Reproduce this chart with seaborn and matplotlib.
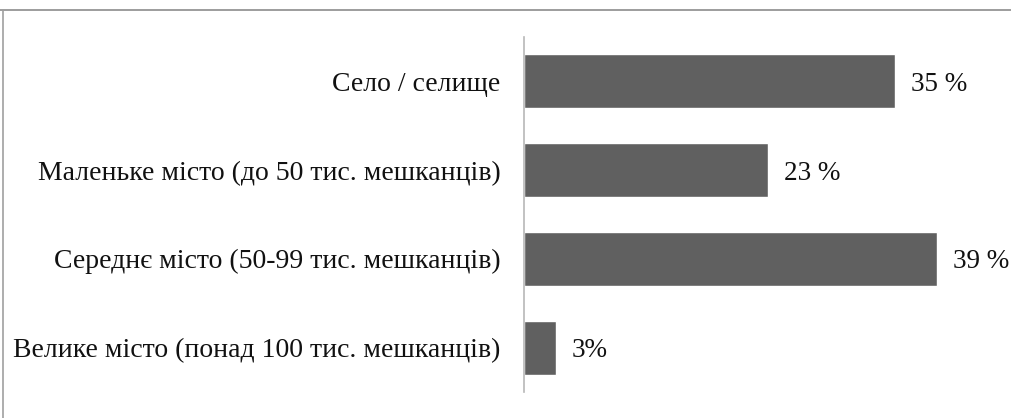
import matplotlib
matplotlib.use("Agg")
import matplotlib.pyplot as plt
from matplotlib.lines import Line2D
import seaborn as sns
import pandas as pd

categories = [
    "Село / селище",
    "Маленьке місто (до 50 тис. мешканців)",
    "Середнє місто (50-99 тис. мешканців)",
    "Велике місто (понад 100 тис. мешканців)",
]
values = [35, 23, 39, 3]
value_labels = ["35 %", "23 %", "39 %", "3%"]

df = pd.DataFrame({"category": categories, "value": values})

sns.set_theme(style="white")
plt.rcParams["font.family"] = ["Liberation Serif", "DejaVu Serif"]

fig = plt.figure(figsize=(10.12, 4.18), dpi=100)
ax = fig.add_axes([524 / 1012, 1 - 392 / 418, 477 / 1012, 355 / 418])

sns.barplot(data=df, x="value", y="category", orient="h", color="#606060",
            saturation=1, width=0.61, ax=ax)

ax.set_xlim(0, 45)
ax.set_ylim(3.5, -0.5)
ax.set_xlabel("")
ax.set_ylabel("")
ax.set_xticks([])
ax.tick_params(axis="y", length=0, pad=17, labelsize=20, labelcolor="#111111")
for lbl in ax.get_yticklabels():
    lbl.set_fontfamily(["Liberation Serif", "DejaVu Serif"])

for side in ("top", "right", "bottom"):
    ax.spines[side].set_visible(False)
ax.spines["left"].set_color("#b8b8b8")
ax.spines["left"].set_linewidth(1.2)

for i, (v, t) in enumerate(zip(values, value_labels)):
    ax.text(v + 1.5, i, t, va="center_baseline", ha="left", fontsize=19.5,
            color="#111111")

# frame lines along the top and left edges of the figure
fig.add_artist(Line2D([0, 1], [1 - 9.5 / 418] * 2, transform=fig.transFigure,
                      color="#8c8c8c", lw=1.2))
fig.add_artist(Line2D([3.5 / 1012] * 2, [0, 1 - 9.5 / 418], transform=fig.transFigure,
                      color="#a0a0a0", lw=1.2))

fig.savefig("out.png", dpi=100, facecolor="white")
